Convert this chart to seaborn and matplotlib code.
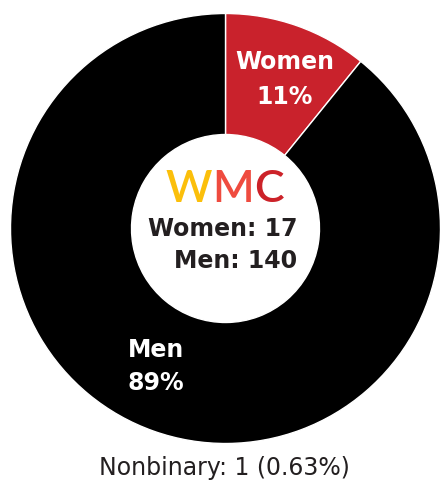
import matplotlib
matplotlib.use("Agg")
import matplotlib.pyplot as plt
import seaborn as sns

# ---- data ----
categories = ["Women", "Men"]
counts = [17, 140]
pct_labels = ["11%", "89%"]
nonbinary_count = 1
nonbinary_pct = "0.63%"
logo_letters = ["W", "M", "C"]

sns.set_theme(style="white")
plt.rcParams["font.family"] = ["DejaVu Sans"]

W, H = 440, 485
fig = plt.figure(figsize=(W / 100, H / 100), dpi=100)
cx, cy, R = 225.5, 229.5, 215
ax = fig.add_axes([(cx - R) / W, (H - cy - R) / H, 2 * R / W, 2 * R / H])

colors = ["#C9222C", "#000000"]
ax.pie(counts, colors=colors, startangle=90, counterclock=False,
       radius=1.0, wedgeprops=dict(width=1 - 94 / 215, edgecolor="white", linewidth=1))
ax.set_xlim(-1, 1)
ax.set_ylim(-1, 1)
ax.set_aspect("equal")
ax.axis("off")

def px(x, y):
    return ((x - cx) / R, (cy - y) / R)

# slice labels
for txt, (lx, ly) in [(categories[0], (285, 62)), (pct_labels[0], (285, 97)),
                      (categories[1], (156, 350)), (pct_labels[1], (156, 383))]:
    x, y = px(lx, ly)
    ax.text(x, y, txt, color="white", fontsize=17, fontweight="bold",
            ha="center", va="center")

# logo
logo_colors = ["#FBBF0B", "#EF4B3F", "#CC2229"]
logo_x = [189, 233, 269]
for ch, col, lx in zip(logo_letters, logo_colors, logo_x):
    x, y = px(lx, 190)
    ax.text(x, y, ch, color=col, fontsize=32, fontweight="semibold",
            family=["Lato", "DejaVu Sans"], ha="center", va="center")

# center counts
x, y = px(297, 229)
ax.text(x, y, f"{categories[0]}: {counts[0]}", color="#231F20", fontsize=17,
        fontweight="bold", ha="right", va="center")
x, y = px(297, 261)
ax.text(x, y, f"{categories[1]}: {counts[1]}", color="#231F20", fontsize=17,
        fontweight="bold", ha="right", va="center")

# nonbinary footnote
fig.text(224 / W, 1 - 468 / H, f"Nonbinary: {nonbinary_count} ({nonbinary_pct})",
         color="#231F20", fontsize=17, ha="center", va="center")

fig.savefig("out.png", dpi=100)
